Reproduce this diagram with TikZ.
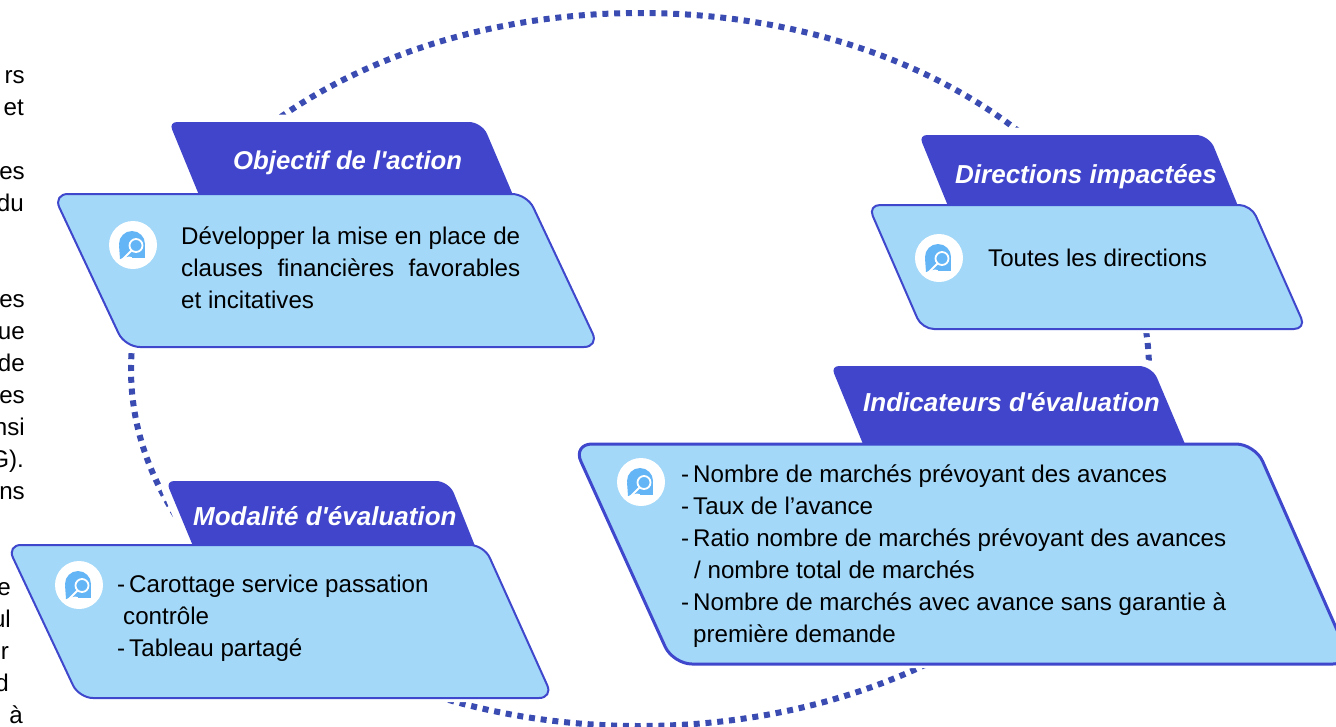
\documentclass[tikz,border=0pt]{standalone}
\usepackage{fontspec}
\setmainfont[Ligatures=TeXOff]{Liberation Sans}
\definecolor{tabblue}{HTML}{4045CB}
\definecolor{bodyblue}{HTML}{A3D8F8}
\definecolor{edgeblue}{HTML}{3F47CC}
\definecolor{dotblue}{HTML}{3A4BB2}
\definecolor{bubble}{HTML}{64B5F6}
% args: TLx TRx BRx BLx top bottom
\newcommand\tabpath[6]{({(#1+#2)/2},#5) [rounded corners=13pt] -- (#2,#5) [rounded corners=0pt] -- (#3,#6) -- (#4,#6) [rounded corners=8pt] -- (#1,#5) [rounded corners=0pt] -- cycle}
% args: TLx TRx BRx BLx top bottom radius
\newcommand\bodypath[7]{({(#1+#2)/2},#5) [rounded corners=#7pt] -- (#2,#5) [rounded corners=#7pt] -- (#3,#6) [rounded corners=#7pt] -- (#4,#6) [rounded corners=#7pt] -- (#1,#5) [rounded corners=0pt] -- cycle}
\newcommand\fl{\rule{0pt}{20pt}}
\tikzset{
  x=1pt,y=-1pt,
  tabshape/.style={fill=tabblue},
  bodyshape/.style={fill=bodyblue,draw=edgeblue,line width=2pt},
  tabhalo/.style={draw=white,line width=15pt},
  bodyhalo/.style={draw=white,line width=8pt},
  heading/.style={anchor=base west,inner sep=0pt,text=white,font=\fontsize{26}{32}\selectfont\bfseries\itshape},
  bodytext/.style={anchor=north west,inner sep=0pt,align=left,text=black,font=\fontsize{24.15}{32}\selectfont},
  margintext/.style={anchor=base east,inner sep=0pt,text=black,font=\fontsize{24.15}{32}\selectfont},
  disc/.style={circle,fill=white,minimum size=48pt,inner sep=0pt},
  pics/loupe/.style={code={
    \fill[bubble] (-1,-1) circle[radius=13];
    \fill[bubble] (-1,-1) rectangle (12,13);
    \fill[bubble] (-14,0) -- (-13,14) -- (-3,11) -- cycle;
    \draw[white,line width=2pt,line cap=round] (-1,5) -- (-11,15);
    \draw[white,line width=1.8pt,fill=bubble] (3,0.5) circle[radius=6.5];
  }},
}
\begin{document}
\begin{tikzpicture}
\useasboundingbox (0,0) rectangle (1336,726);
\clip (0,0) rectangle (1336,726);
% dotted ring
\draw[dotblue,line width=6pt,dash pattern=on 6pt off 5.8pt] (640,369.5) ellipse[x radius=509,y radius=356.5];
% halos that cut the ring near the shapes
\draw[tabhalo] \tabpath{169}{482}{513}{199}{122}{194};
\draw[tabhalo] \tabpath{919}{1209}{1238}{948}{135}{205};
\draw[tabhalo] \tabpath{831}{1152}{1185}{863}{366}{443};
\draw[tabhalo] \tabpath{166}{449}{475}{193}{481}{545};
\draw[bodyhalo] \bodypath{53}{527}{599}{125}{194}{347}{15};
\draw[bodyhalo] \bodypath{868}{1251}{1306}{922}{205}{329}{12};
\draw[bodyhalo] \bodypath{573}{1255}{1352}{673}{444}{664}{19};
\draw[bodyhalo] \bodypath{7}{484}{553}{79}{545}{698}{14};
% tabs
\fill[tabshape] \tabpath{169}{482}{513}{199}{122}{195};
\fill[tabshape] \tabpath{919}{1209}{1238}{948}{135}{206};
\fill[tabshape] \tabpath{831}{1152}{1185}{863}{366}{444};
\fill[tabshape] \tabpath{166}{449}{475}{193}{481}{546};
% bodies
\draw[bodyshape] \bodypath{53}{527}{599}{125}{194}{347}{15};
\draw[bodyshape] \bodypath{868}{1251}{1306}{922}{205}{329}{12};
\draw[bodyshape,line width=3pt] \bodypath{573}{1255}{1352}{673}{444}{664}{19};
\draw[bodyshape] \bodypath{7}{484}{553}{79}{545}{698}{14};
% headings
\node[heading,font=\fontsize{25.7}{32}\selectfont\bfseries\itshape] (hobj) at (233,169) {Objectif de l'action};
\node[heading] (hdir) at (955,183) {Directions impactées};
\node[heading] (hind) at (863,411) {Indicateurs d'évaluation};
\node[heading] (hmod) at (193,525) {Modalité d'évaluation};
% icons
\node[disc] (iobj) at (133,245) {};
\pic at (iobj.center) {loupe};
\node[disc] (idir) at (939,258) {};
\pic at (idir.center) {loupe};
\node[disc] (iind) at (641,482) {};
\pic at (iind.center) {loupe};
\node[disc] (imod) at (79,585) {};
\pic at (imod.center) {loupe};
% body text
\node[bodytext] (tobj) at (181,224) {\makebox[339pt][s]{\fl Développer la mise en place de}\\\makebox[339pt][s]{clauses financières favorables}\\et incitatives};
\node[bodytext] (tdir) at (988,246) {\fl Toutes les directions};
\node[bodytext] (tind) at (681,462) {\fl -\hspace*{4pt}Nombre de marchés prévoyant des avances\\-\hspace*{4pt}Taux de l’avance\\-\hspace*{4pt}Ratio nombre de marchés prévoyant des avances\\\hspace*{13pt}/ nombre total de marchés\\-\hspace*{4pt}Nombre de marchés avec avance sans garantie à\\\hspace*{12pt}première demande};
\node[bodytext] (tmod) at (117,572) {\fl -\hspace*{4pt}Carottage service passation\\\hspace*{6pt}contrôle\\-\hspace*{4pt}Tableau partagé};
% cut-off text at the left margin
\node[margintext] (m1) at (25,83) {rs};
\node[margintext] (m2) at (24,115) {et};
\node[margintext] (m3) at (25,179) {es};
\node[margintext] (m4) at (24,211) {du};
\node[margintext] (m5) at (25,307) {es};
\node[margintext] (m6) at (25,339) {ue};
\node[margintext] (m7) at (25,371) {de};
\node[margintext] (m8) at (25,403) {es};
\node[margintext] (m9) at (25,435) {nsi};
\node[margintext] (m10) at (24,467) {G).};
\node[margintext] (m11) at (25,499) {ns};
\node[margintext] (m12) at (11,595) {e};
\node[margintext] (m13) at (11,627) {ul};
\node[margintext] (m14) at (9,659) {r};
\node[margintext] (m15) at (9,691) {d};
\node[margintext] (m16) at (23,723) {à};
\end{tikzpicture}
\end{document}
